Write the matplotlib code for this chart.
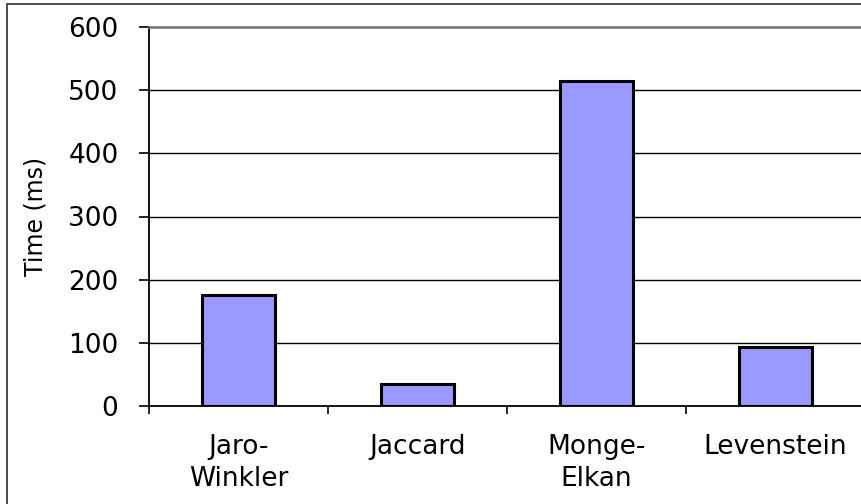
import matplotlib
matplotlib.use("Agg")
import matplotlib.pyplot as plt
from matplotlib.patches import Rectangle
import numpy as np

categories = ["Jaro-\nWinkler", "Jaccard", "Monge-\nElkan", "Levenstein"]
times_ms = [175, 35, 515, 94]
y_ticks = [0, 100, 200, 300, 400, 500, 600]

W, H = 861, 504
plt.rcParams['font.family'] = ['DejaVu Sans']
fig = plt.figure(figsize=(W / 100, H / 100), dpi=100)

# outer chart border (Excel-like chart area)
fig.patches.append(Rectangle((7 / W, -0.05), 1.2, (H - 4) / H + 0.05,
                             transform=fig.transFigure, fill=False,
                             edgecolor="#404040", linewidth=1.3))

left, right, top, bottom = 149, 865, 27, 406
ax = fig.add_axes([left / W, (H - bottom) / H, (right - left) / W, (bottom - top) / H])

x = np.arange(len(categories))
ax.bar(x, times_ms, width=0.41, color="#9999FF", edgecolor="black", linewidth=2.2, zorder=3)

ax.set_xlim(-0.5, len(categories) - 0.5)
ax.set_ylim(0, 600)

ax.set_yticks(y_ticks)
ax.set_yticklabels([str(v) for v in y_ticks], fontsize=19)
ax.tick_params(axis="y", direction="out", length=7, width=1.2, pad=15, colors="black")

# category boundary ticks (major, unlabeled) and centered labels (minor)
ax.set_xticks(np.arange(len(categories) + 1) - 0.5)
ax.set_xticklabels([])
ax.set_xticks(x, minor=True)
ax.set_xticklabels(categories, minor=True, fontsize=19, linespacing=1.3)
ax.tick_params(axis="x", which="major", direction="out", length=6, width=1.2)
ax.tick_params(axis="x", which="minor", length=0, pad=20)

for v in y_ticks[1:-1]:
    ax.axhline(v, color="black", linewidth=1.0, zorder=1)

ax.spines["right"].set_visible(False)
ax.spines["top"].set_color("#707070")
ax.spines["top"].set_linewidth(1.8)
ax.spines["left"].set_linewidth(1.3)
ax.spines["bottom"].set_linewidth(1.3)

ax.set_ylabel("Time (ms)", fontsize=17)
ax.yaxis.set_label_coords(-0.142, 0.5)

fig.savefig("out.png", dpi=100)
